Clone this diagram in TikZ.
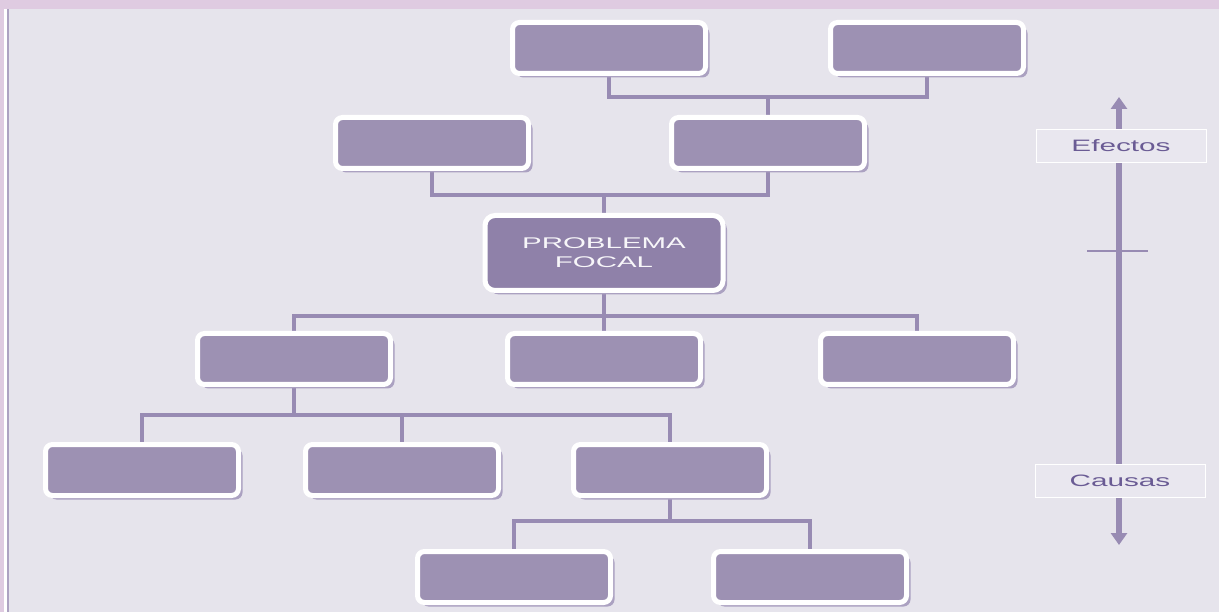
\documentclass[tikz,border=0pt]{standalone}
\usepackage{fontspec}
\setmainfont{Liberation Sans}
\usetikzlibrary{shadows,arrows.meta}
\definecolor{bgc}{HTML}{E6E4EC}
\definecolor{bandc}{HTML}{DFCBE1}
\definecolor{boxc}{HTML}{9D91B3}
\definecolor{focalc}{HTML}{8F81A9}
\definecolor{linec}{HTML}{988BB3}
\definecolor{txtc}{HTML}{6A5B94}
\definecolor{shadc}{HTML}{ABA1C1}
\definecolor{lblc}{HTML}{E9E7EF}
\pgfdeclarelayer{back}
\pgfdeclarelayer{wires}
\pgfsetlayers{back,wires,main}
\tikzset{
  box/.style={draw=white, line width=5pt, fill=boxc, rounded corners=7pt,
    minimum width=193pt, minimum height=51pt, inner sep=0pt,
    drop shadow={shadow xshift=4pt, shadow yshift=-4pt, fill=shadc, opacity=1}},
  focalbox/.style={box, fill=focalc, minimum width=238pt, minimum height=75pt, rounded corners=10pt},
  conn/.style={draw=linec, line width=3.5pt},
  axisline/.style={draw=linec, line width=6pt},
  lbl/.style={draw=white, line width=1pt, fill=lblc, minimum width=170pt, minimum height=33pt, inner sep=0pt, text=txtc, font=\fontsize{16.5}{18}\selectfont}
}
\begin{document}
\begin{tikzpicture}[x=1pt,y=-1pt]
\useasboundingbox (0,0) rectangle (1219,612);
\begin{pgfonlayer}{back}
\fill[bgc] (0,0) rectangle (1219,612);
\fill[bandc] (0,0) rectangle (1219,9);
\fill[bandc] (0,0) rectangle (4,612);
\fill[white] (4,9) rectangle (7,612);
\fill[linec!80] (7,9) rectangle (9,612);
\end{pgfonlayer}

% boxes
\node[box] (A) at (609,48) {};
\node[box] (B) at (927,48) {};
\node[box] (C) at (432,143) {};
\node[box] (D) at (768,143) {};
\node[focalbox, text=white!92!boxc, align=center, font=\fontsize{15.5}{19}\selectfont] (P) at (604,253)
  {\scalebox{1.9}[1]{PROBLEMA}\\\scalebox{1.9}[1]{FOCAL}};
\node[box] (E) at (294,359) {};
\node[box] (F) at (604,359) {};
\node[box] (G) at (917,359) {};
\node[box] (H) at (142,470) {};
\node[box] (I) at (402,470) {};
\node[box] (J) at (670,470) {};
\node[box] (K) at (514,577) {};
\node[box] (L) at (810,577) {};

% bus coordinates
\coordinate (b1) at (768,97);
\coordinate (b2) at (604,195);
\coordinate (b3) at (604,316);
\coordinate (b4) at (294,415);
\coordinate (b5) at (670,521);

\begin{pgfonlayer}{wires}
\draw[conn] (A.south) |- (b1) -| (B.south);
\draw[conn] (b1) -- (D.north);
\draw[conn] (C.south) |- (b2) -| (D.south);
\draw[conn] (b2) -- (P.north);
\draw[conn] (P.south) -- (b3);
\draw[conn] (E.north) |- (b3) -| (G.north);
\draw[conn] (b3) -- (F.north);
\draw[conn] (E.south) -- (b4);
\draw[conn] (H.north) |- (b4) -| (J.north);
\draw[conn] (I.north) -- (I.north |- b4);
\draw[conn] (J.south) -- (b5);
\draw[conn] (K.north) |- (b5) -| (L.north);
\end{pgfonlayer}

% right axis
\coordinate (top) at (1119,97);
\coordinate (bot) at (1119,545);
\coordinate (tl) at (1087,251);
\coordinate (tr) at (1148,251);
\draw[axisline, {Triangle[width=16pt,length=12pt]}-{Triangle[width=16pt,length=12pt]}] (top) -- (bot);
\draw[conn, line width=2.5pt] (tl) -- (tr);
\node[lbl] (ef) at (1121,146) {\scalebox{1.8}[1]{Efectos}};
\node[lbl] (ca) at (1120,481) {\scalebox{1.8}[1]{Causas}};
\end{tikzpicture}
\end{document}
